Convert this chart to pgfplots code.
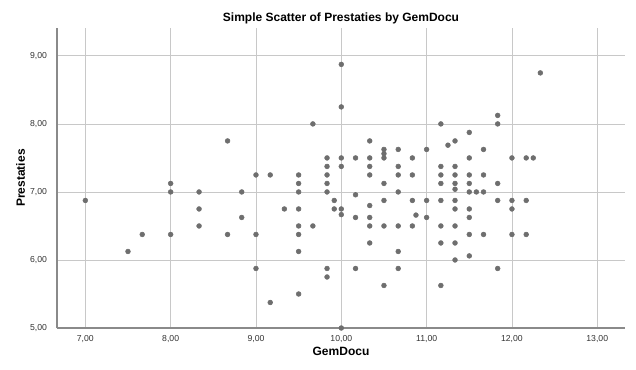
\documentclass[border=0pt]{standalone}
\usepackage{fontspec}
\setmainfont{Liberation Sans}
\usepackage{pgfplots}
\pgfplotsset{compat=1.18}
\definecolor{dotgray}{HTML}{6E6E6E}
\definecolor{gridgray}{HTML}{C8C8C8}
\definecolor{axisgray}{HTML}{8A8A8A}
\begin{document}
\begin{tikzpicture}
\useasboundingbox (0,0) rectangle (477pt,276.75pt);
\begin{axis}[
  at={(42.75pt,30.75pt)}, anchor=south west,
  scale only axis, width=426pt, height=225pt,
  xmin=6.668, xmax=13.325, ymin=5, ymax=9.41,
  xtick={7,8,...,13}, ytick={5,6,7,8,9},
  axis x line=bottom, axis y line=left,
  axis line style={-, draw=axisgray, line width=0.8pt},
  major tick length=0pt,
  grid=major,
  major grid style={draw=gridgray, line width=0.6pt},
  /pgf/number format/.cd, fixed, fixed zerofill, precision=2, use comma, assume math mode=true,
  /pgfplots/.cd,
  tick label style={font=\fontsize{6.5}{7}\selectfont, text=black!80},
  xticklabel style={yshift=-2pt},
  yticklabel style={xshift=-4pt},
  title={Simple Scatter of Prestaties by GemDocu},
  title style={font=\fontsize{9}{10}\selectfont\bfseries, at={(0.5,1)}, anchor=south, yshift=-6.5pt},
  xlabel={GemDocu}, ylabel={Prestaties},
  xlabel style={font=\fontsize{9}{10}\selectfont\bfseries, yshift=3.5pt},
  ylabel style={font=\fontsize{9}{10}\selectfont\bfseries, yshift=-3pt},
]
\addplot[only marks, mark=*, mark size=1.8pt, draw=dotgray, fill=dotgray] coordinates {
(7.00,6.875) (7.50,6.125) (7.667,6.375)
(8.00,7.125) (8.00,7.00) (8.00,6.375)
(8.333,7.00) (8.333,6.75) (8.333,6.50)
(8.667,7.75) (8.667,6.375)
(8.833,7.00) (8.833,6.625)
(9.00,7.25) (9.00,6.375) (9.00,5.875)
(9.167,7.25) (9.167,5.375)
(9.333,6.75)
(9.50,7.25) (9.50,7.125) (9.50,7.00) (9.50,6.75) (9.50,6.50) (9.50,6.375) (9.50,6.125) (9.50,5.50)
(9.667,8.00) (9.667,6.50)
(9.833,7.50) (9.833,7.375) (9.833,7.25) (9.833,7.125) (9.833,7.00) (9.833,5.875) (9.833,5.75)
(9.917,6.875) (9.917,6.75)
(10.00,8.875) (10.00,8.25) (10.00,7.50) (10.00,7.375) (10.00,6.75) (10.00,6.667) (10.00,5.00)
(10.167,7.50) (10.167,6.958) (10.167,6.625) (10.167,5.875)
(10.333,7.75) (10.333,7.50) (10.333,7.375) (10.333,7.25) (10.333,6.80) (10.333,6.625) (10.333,6.50) (10.333,6.25)
(10.50,7.625) (10.50,7.5625) (10.50,7.50) (10.50,7.125) (10.50,6.875) (10.50,6.50) (10.50,5.625)
(10.667,7.625) (10.667,7.375) (10.667,7.25) (10.667,7.00) (10.667,6.50) (10.667,6.125) (10.667,5.875)
(10.833,7.50) (10.833,7.25) (10.833,6.875) (10.833,6.50)
(10.875,6.66)
(11.00,7.625) (11.00,6.875) (11.00,6.625)
(11.167,8.00) (11.167,7.375) (11.167,7.25) (11.167,7.125) (11.167,6.875) (11.167,6.50) (11.167,6.25) (11.167,5.625)
(11.25,7.6875)
(11.333,7.75) (11.333,7.375) (11.333,7.25) (11.333,7.125) (11.333,7.04) (11.333,6.875) (11.333,6.75) (11.333,6.50) (11.333,6.25) (11.333,6.00)
(11.50,7.875) (11.50,7.50) (11.50,7.25) (11.50,7.125) (11.50,7.00) (11.50,6.75) (11.50,6.625) (11.50,6.375) (11.50,6.06)
(11.583,7.00)
(11.667,7.625) (11.667,7.25) (11.667,7.00) (11.667,6.375)
(11.833,8.125) (11.833,8.00) (11.833,7.125) (11.833,6.875) (11.833,5.875)
(12.00,7.50) (12.00,6.875) (12.00,6.75) (12.00,6.375)
(12.167,7.50) (12.167,6.875) (12.167,6.375)
(12.25,7.50)
(12.333,8.75)
};
\end{axis}
\end{tikzpicture}
\end{document}
